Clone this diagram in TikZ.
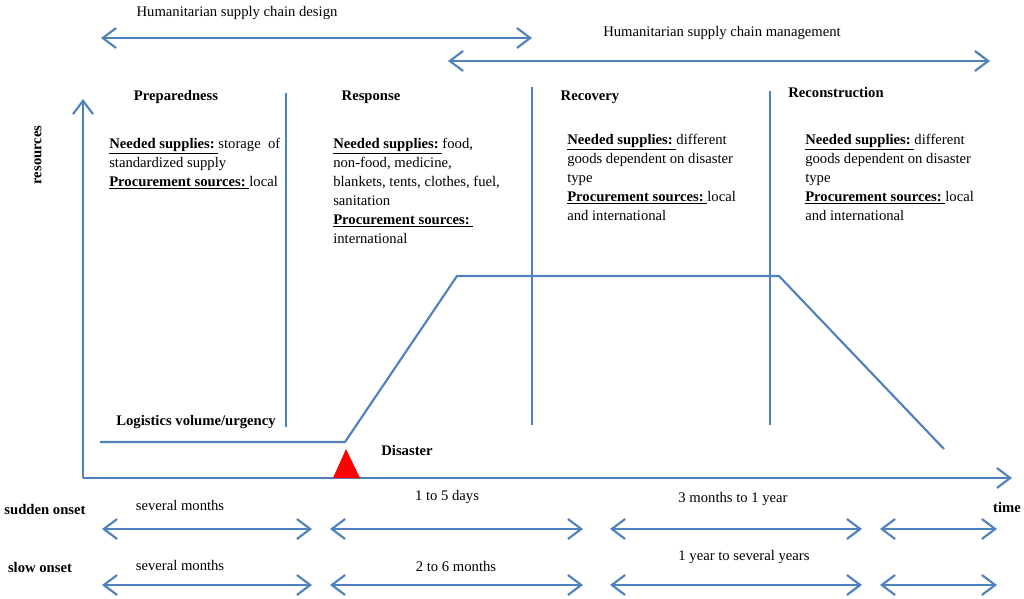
\documentclass[tikz,border=0pt]{standalone}
\usepackage{fontspec}
\setmainfont{Liberation Serif}
\usetikzlibrary{arrows.meta, positioning}
\definecolor{hsblue}{RGB}{79,129,189}
\newcommand{\ulhead}[1]{\underline{\textbf{#1}\ }}

\begin{document}
\begin{tikzpicture}[x=0.75pt, y=-0.75pt,
    every node/.style={font=\fontsize{11}{14.25}\selectfont, inner sep=0pt},
    blueline/.style={draw=hsblue, line width=1.6pt},
    sepline/.style={draw=hsblue, line width=1.2pt},
    span/.style={blueline, {Straight Barb[length=10pt,width=15pt]}-{Straight Barb[length=10pt,width=15pt]}},
    axis/.style={blueline, -{Straight Barb[length=10pt,width=15pt]}},
    heading/.style={font=\fontsize{11}{14.25}\selectfont\bfseries, anchor=base},
    phasetext/.style={anchor=north west, align=left}]

  \useasboundingbox (0,0) rectangle (1024,599);

  % design / management spans
  \coordinate (dl) at (101,38);  \coordinate (dr) at (532,38);
  \coordinate (ml) at (448,61);  \coordinate (mr) at (990,61);
  \draw[span] (dl) -- (dr);
  \draw[span] (ml) -- (mr);
  \node (design) at (237,13) {Humanitarian supply chain design};
  \node (manage) at (722,33) {Humanitarian supply chain management};

  % axes
  \coordinate (origin) at (83,478);
  \coordinate (ytop) at (83,99);
  \coordinate (xend) at (1012,478);
  \draw[axis] (origin) -- (ytop);
  \draw[axis] (origin) -- (xend);
  \node[rotate=90, font=\fontsize{11}{14.25}\selectfont\bfseries] (res) at (38,155) {resources};
  \node[font=\fontsize{11}{14.25}\selectfont\bfseries] (time) at (1007,507) {time};

  % phase separators
  \foreach \x/\t/\b [count=\i] in {286/93/427, 532/87/425, 770/91/425}{
    \coordinate (st\i) at (\x,\t); \coordinate (sb\i) at (\x,\b);
    \draw[sepline] (st\i) -- (sb\i);
  }

  % phase headings
  \node[heading] (prep) at (176,101) {Preparedness};
  \node[heading] (resp) at (371,101) {Response};
  \node[heading] (reco) at (590,101) {Recovery};
  \node[heading] (recon) at (836,98) {Reconstruction};

  \node[phasetext] (preptxt) at (109,138)
    {\ulhead{Needed supplies:}storage\ \ of\\ standardized supply\\ \ulhead{Procurement sources:}local};
  \node[phasetext] (resptxt) at (333,138)
    {\ulhead{Needed supplies:}food,\\ non-food, medicine,\\ blankets, tents, clothes, fuel,\\ sanitation\\ \ulhead{Procurement sources:}\\ international};
  \node[phasetext] (recotxt) at (567,134)
    {\ulhead{Needed supplies:}different\\ goods dependent on disaster\\ type\\ \ulhead{Procurement sources:}local\\ and international};
  \node[phasetext] (recontxt) at (805,134)
    {\ulhead{Needed supplies:}different\\ goods dependent on disaster\\ type\\ \ulhead{Procurement sources:}local\\ and international};

  % logistics volume curve
  \coordinate (v0) at (100,442);
  \coordinate (v1) at (345,442);
  \coordinate (v2) at (457,276);
  \coordinate (v3) at (779,276);
  \coordinate (v4) at (944,449);
  \draw[blueline] (v0) -- (v1) -- (v2) -- (v3) -- (v4);
  \node[heading, anchor=center] (logvol) at (196,422) {Logistics volume/urgency};

  % disaster marker
  \fill[red] (333,478) -- (346,449) -- (360,478) -- cycle;
  \node[heading, anchor=center] (dis) at (407,450) {Disaster};

  % duration rows
  \node[font=\fontsize{11}{14.25}\selectfont\bfseries] (sudden) at (45,509) {sudden onset};
  \node[font=\fontsize{11}{14.25}\selectfont\bfseries] (slow) at (40,567) {slow onset};
  \foreach \a/\b [count=\i] in {102/312, 330/583, 610/862, 880/997}{
    \coordinate (sl\i) at (\a,529); \coordinate (sr\i) at (\b,529);
    \coordinate (wl\i) at (\a,585); \coordinate (wr\i) at (\b,585);
    \draw[span] (sl\i) -- (sr\i);
    \draw[span] (wl\i) -- (wr\i);
  }
  \node (s1) at (180,505) {several months};
  \node (s2) at (447,497) {1 to 5 days};
  \node (s3) at (733,499) {3 months to 1 year};
  \node (w1) at (180,565) {several months};
  \node (w2) at (456,566) {2 to 6 months};
  \node (w3) at (744,557) {1 year to several years};
\end{tikzpicture}
\end{document}
